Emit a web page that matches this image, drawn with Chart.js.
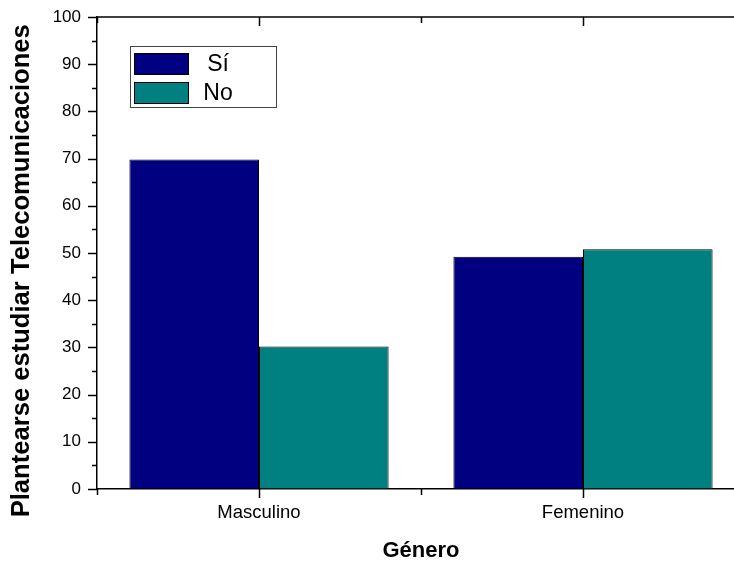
<!DOCTYPE html>
<html>
<head>
<meta charset="utf-8">
<script src="https://cdn.jsdelivr.net/npm/chart.js@4.4.1/dist/chart.umd.min.js"></script>
<style>
  html, body { margin: 0; padding: 0; background: #fff; overflow: hidden; }
  #wrap { width: 760px; height: 565px; position: relative; }
</style>
</head>
<body>
<div id="wrap"><canvas id="c" width="760" height="565"></canvas></div>
<script>
// Categories and series
const categories = ['Masculino', 'Femenino'];
const seriesNames = ['Sí', 'No'];
const siValues = [69.8, 49.2];
const noValues = [30.2, 50.8];
const yTitle = 'Plantearse estudiar Telecomunicaciones';
const xTitle = 'Género';

const FONT = '"Liberation Sans", Arial, sans-serif';
const NAVY = '#000080';
const TEAL = '#008080';

// Axis tick marks (major / minor), top frame line and the boxed legend
const framePlugin = {
  id: 'frame',
  afterDraw(chart) {
    const ctx = chart.ctx;
    const area = chart.chartArea;
    const y = chart.scales.y;
    const x = chart.scales.x;
    ctx.save();
    ctx.strokeStyle = '#000';
    ctx.lineWidth = 1.5;

    // top frame line
    ctx.beginPath();
    ctx.moveTo(area.left, area.top);
    ctx.lineTo(area.right, area.top);
    ctx.stroke();

    // y-axis ticks: major every 10, minor every 5, outward
    for (let v = 0; v <= 100; v += 5) {
      const py = Math.round(y.getPixelForValue(v)) + 0.5;
      const len = (v % 10 === 0) ? 9 : 5;
      ctx.beginPath();
      ctx.moveTo(area.left - len, py);
      ctx.lineTo(area.left, py);
      ctx.stroke();
    }

    // x-axis ticks: major at category centres, minor at category boundaries
    const n = categories.length;
    for (let i = 0; i < n; i++) {
      const cx = Math.round(x.getPixelForValue(i)) + 0.5;
      ctx.beginPath();
      ctx.moveTo(cx, area.bottom);
      ctx.lineTo(cx, area.bottom + 9);
      ctx.moveTo(cx, area.top);
      ctx.lineTo(cx, area.top + 9);
      ctx.stroke();
    }
    for (let i = 0; i <= n; i++) {
      const bx = Math.round(x.getPixelForValue(i - 0.5)) + 0.5;
      ctx.beginPath();
      ctx.moveTo(bx, area.bottom);
      ctx.lineTo(bx, area.bottom + 6);
      ctx.moveTo(bx, area.top);
      ctx.lineTo(bx, area.top + 6);
      ctx.stroke();
    }

    // legend box
    const lx = 130.5, ly = 46.5, lw = 146, lh = 61;
    ctx.fillStyle = '#fff';
    ctx.fillRect(lx, ly, lw, lh);
    ctx.lineWidth = 1;
    ctx.strokeStyle = '#444';
    ctx.strokeRect(lx, ly, lw, lh);

    const rows = [53, 82];
    chart.data.datasets.forEach((ds, i) => {
      ctx.fillStyle = ds.backgroundColor;
      ctx.fillRect(134.5, rows[i] + 0.5, 54, 21);
      ctx.strokeStyle = '#000';
      ctx.lineWidth = 1;
      ctx.strokeRect(134.5, rows[i] + 0.5, 54, 21);
      ctx.fillStyle = '#000';
      ctx.font = '23px ' + FONT;
      ctx.textAlign = 'center';
      ctx.textBaseline = 'middle';
      ctx.fillText(ds.label, 218, rows[i] + 12);
    });
    ctx.restore();
  }
};

new Chart(document.getElementById('c'), {
  type: 'bar',
  data: {
    labels: categories,
    datasets: [
      {
        label: seriesNames[0],
        data: siValues,
        backgroundColor: NAVY,
        borderColor: '#000',
        borderWidth: 1
      },
      {
        label: seriesNames[1],
        data: noValues,
        backgroundColor: TEAL,
        borderColor: '#000',
        borderWidth: 1
      }
    ]
  },
  options: {
    responsive: false,
    animation: false,
    events: [],
    layout: { padding: { top: 17, right: 15, left: 0, bottom: 0 } },
    datasets: { bar: { categoryPercentage: 0.8, barPercentage: 1.0 } },
    plugins: {
      legend: { display: false },
      tooltip: { enabled: false }
    },
    scales: {
      x: {
        type: 'category',
        offset: true,
        grid: { display: true, drawOnChartArea: false, drawTicks: false },
        border: { display: true, color: '#000', width: 1.5 },
        ticks: {
          color: '#000',
          font: { family: FONT, size: 18.5 },
          padding: 13,
          maxRotation: 0
        },
        title: {
          display: true,
          text: xTitle,
          color: '#000',
          font: { family: FONT, size: 22, weight: 'bold', lineHeight: 1.2 },
          padding: { top: 0, bottom: 1 }
        },
        afterFit(scale) {
          scale.height = 76;
          scale.paddingLeft = 0;
          scale.paddingRight = 0;
        }
      },
      y: {
        min: 0,
        max: 100,
        grid: { display: true, drawOnChartArea: false, drawTicks: false },
        border: { display: true, color: '#000', width: 1.5 },
        ticks: {
          stepSize: 10,
          color: '#000',
          font: { family: FONT, size: 17 },
          padding: 16
        },
        title: {
          display: true,
          text: yTitle + '     ',
          color: '#000',
          font: { family: FONT, size: 25.6, weight: 'bold', lineHeight: 1.2 },
          padding: { top: 7, bottom: 0 }
        },
        afterFit(scale) {
          scale.width = 97;
          scale.paddingTop = 0;
          scale.paddingBottom = 0;
        }
      }
    }
  },
  plugins: [framePlugin]
});
</script>
</body>
</html>
